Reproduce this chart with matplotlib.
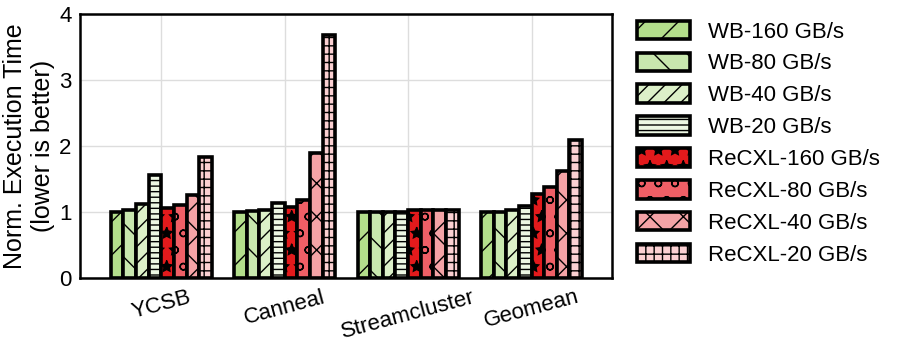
import numpy as np
import matplotlib
matplotlib.use("Agg")
import matplotlib.pyplot as plt

matplotlib.rcParams['font.family'] = ['Liberation Sans', 'DejaVu Sans']
matplotlib.rcParams['hatch.linewidth'] = 1.0

workloads = ["YCSB", "Canneal", "Streamcluster", "Geomean"]
series = ["WB-160 GB/s", "WB-80 GB/s", "WB-40 GB/s", "WB-20 GB/s",
          "ReCXL-160 GB/s", "ReCXL-80 GB/s", "ReCXL-40 GB/s", "ReCXL-20 GB/s"]

wb_160 = [1.00, 1.00, 1.00, 1.00]
wb_80 = [1.03, 1.02, 1.00, 1.00]
wb_40 = [1.13, 1.03, 1.00, 1.03]
wb_20 = [1.57, 1.14, 1.00, 1.10]
recxl_160 = [1.06, 1.08, 1.03, 1.27]
recxl_80 = [1.11, 1.19, 1.03, 1.38]
recxl_40 = [1.26, 1.89, 1.03, 1.63]
recxl_20 = [1.83, 3.68, 1.03, 2.10]

values = [wb_160, wb_80, wb_40, wb_20, recxl_160, recxl_80, recxl_40, recxl_20]
colors = ["#b3de8b", "#c8e7ae", "#dcf0c8", "#edf7e3",
          "#e31a1c", "#ef5f66", "#f4a3a6", "#fbd0d2"]
hatches = ["/", "\\", "//", "---", "*", "o", "x", "++"]

fig, ax = plt.subplots(figsize=(8.97, 3.48), dpi=100)
x = np.arange(len(workloads))
w = 0.1025
for i, (vals, c, h, lab) in enumerate(zip(values, colors, hatches, series)):
    ax.bar(x + (i - 3.5) * w, vals, width=w, color=c, hatch=h,
           edgecolor="black", linewidth=2.6, label=lab, zorder=3)

ax.set_xlim(-0.66, 3.65)
ax.set_ylim(0, 4)
ax.set_yticks([0, 1, 2, 3, 4])
ax.set_xticks(x)
ax.set_xticklabels(workloads, rotation=15, fontsize=16)
ax.tick_params(axis='y', labelsize=16)
ax.tick_params(length=0, pad=6)
ax.set_ylabel("Norm. Execution Time\n(lower is better)", fontsize=18,
              labelpad=3)
ax.grid(True, color="#dddddd", linewidth=1, zorder=0)
for s in ax.spines.values():
    s.set_linewidth(1.8)

ax.legend(loc="upper left", bbox_to_anchor=(1.01, 1.05), frameon=False,
          fontsize=16, handlelength=2.4, handleheight=0.9,
          labelspacing=0.45, handletextpad=0.8)

plt.subplots_adjust(left=0.089, right=0.682, top=0.96, bottom=0.2)
plt.savefig("out.png", dpi=100)
